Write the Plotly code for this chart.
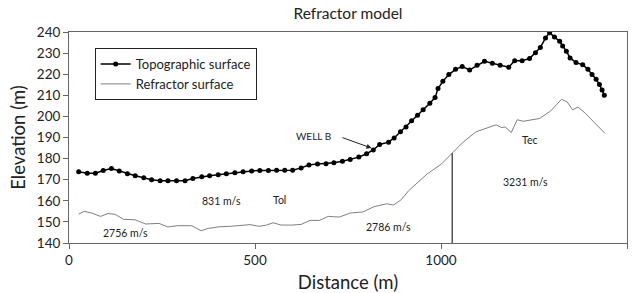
import plotly.graph_objects as go

# Topographic surface (distance m, elevation m)
topo_distance = [26, 49, 71, 92, 114, 135, 157, 178, 201, 222, 245, 266, 289, 312, 333, 357,
                 378, 401, 423, 446, 468, 491, 513, 536, 558, 580, 601, 624, 645, 668, 691,
                 712, 735, 756, 779, 800, 818, 835, 859, 874, 891, 906, 921, 937, 952, 970,
                 984, 992, 1005, 1021, 1039, 1057, 1077, 1097, 1117, 1138, 1159, 1182, 1198,
                 1218, 1238, 1254, 1267, 1281, 1292, 1305, 1319, 1327, 1337, 1347, 1363, 1381,
                 1395, 1406, 1417, 1426, 1433, 1439]
topo_elevation = [173.8, 173.1, 173.1, 174.4, 175.3, 174.1, 172.8, 171.9, 170.9, 170.0, 169.5,
                  169.5, 169.5, 169.5, 170.6, 171.4, 171.9, 172.3, 172.8, 173.3, 173.8, 174.1,
                  174.4, 174.4, 174.5, 174.5, 174.5, 175.6, 177.0, 177.5, 177.6, 178.0, 178.7,
                  179.6, 180.7, 182.3, 184.1, 186.7, 187.8, 189.8, 192.7, 195.0, 197.9, 200.6,
                  203.1, 206.2, 208.9, 213.2, 216.6, 219.8, 222.3, 223.6, 222.0, 224.2, 226.1,
                  225.2, 224.2, 223.3, 226.4, 226.4, 227.4, 230.2, 232.6, 237.2, 239.7, 237.6,
                  235.6, 233.4, 230.9, 227.7, 225.5, 224.5, 222.3, 219.8, 217.6, 215.1, 212.5,
                  210.0]

# Refractor surface
refr_distance = [26, 41, 61, 85, 105, 124, 147, 178, 206, 242, 266, 291, 330, 355, 374, 404,
                 433, 462, 487, 511, 531, 549, 570, 599, 624, 648, 673, 697, 727, 756, 790,
                 820, 854, 872, 893, 913, 937, 962, 1001, 1030, 1060, 1094, 1123, 1148, 1163,
                 1172, 1189, 1205, 1221, 1265, 1295, 1324, 1339, 1354, 1368, 1388, 1412, 1440]
refr_elevation = [153.7, 155.0, 154.2, 152.6, 154.0, 153.6, 151.2, 151.0, 149.0, 149.3, 147.6,
                  148.2, 148.2, 145.8, 146.9, 147.7, 147.9, 148.2, 148.7, 147.9, 148.5, 149.6,
                  148.5, 148.5, 148.8, 150.7, 150.7, 152.6, 152.3, 154.2, 154.7, 157.2, 158.6,
                  158.0, 160.5, 164.8, 168.4, 172.6, 177.4, 182.6, 187.9, 192.7, 194.6, 196.0,
                  194.7, 195.0, 192.4, 198.4, 197.7, 199.0, 202.6, 208.1, 206.9, 203.1, 204.4,
                  201.5, 197.1, 192.1]

# Layer boundary (vertical line)
boundary_distance = 1030
boundary_top = 182.6
axis_bottom = 140

# Labels: (text, distance, elevation)
label_text = ["831 m/s", "Tol", "2756 m/s", "2786 m/s", "3231 m/s", "Tec"]
label_x = [411, 567, 152, 858, 1227, 1239]
label_y = [159.8, 160.6, 144.8, 147.6, 168.9, 188.7]

well_label = "WELL B"
well_label_x, well_label_y = 658, 190.7
well_arrow_tail = (731, 190.2)
well_arrow_head = (813, 185.0)

x_ticks = [0, 500, 1000, 1500]
y_ticks = [140, 150, 160, 170, 180, 190, 200, 210, 220, 230, 240]

FONT = "Lato, 'DejaVu Sans', sans-serif"

fig = go.Figure()
fig.add_trace(go.Scatter(
    x=topo_distance, y=topo_elevation, mode="lines+markers",
    name="Topographic surface",
    line=dict(color="black", width=1.5),
    marker=dict(color="black", size=5, symbol="circle"),
))
fig.add_trace(go.Scatter(
    x=refr_distance, y=refr_elevation, mode="lines",
    name="Refractor surface",
    line=dict(color="#808080", width=1),
))
fig.add_trace(go.Scatter(
    x=[boundary_distance, boundary_distance], y=[axis_bottom, boundary_top],
    mode="lines", line=dict(color="black", width=1), showlegend=False, hoverinfo="skip",
))

for t, x, y in zip(label_text, label_x, label_y):
    fig.add_annotation(x=x, y=y, text=t, showarrow=False,
                       font=dict(family=FONT, size=10.5, color="#222"))

fig.add_annotation(x=well_label_x, y=well_label_y, text=well_label, showarrow=False,
                   font=dict(family=FONT, size=10, color="#222"))
fig.add_annotation(x=well_arrow_head[0], y=well_arrow_head[1],
                   ax=well_arrow_tail[0], ay=well_arrow_tail[1],
                   axref="x", ayref="y", xref="x", yref="y", text="",
                   showarrow=True, arrowhead=2, arrowsize=1, arrowwidth=1, arrowcolor="#222")

fig.update_layout(
    width=638, height=293,
    margin=dict(l=69, r=11, t=32, b=50, autoexpand=False),
    paper_bgcolor="white", plot_bgcolor="white",
    font=dict(family=FONT, color="#222"),
    title=dict(text="Refractor model", x=0.5, xref="paper", y=0.952, yref="container",
               xanchor="center", yanchor="middle", font=dict(size=15.5, color="#222")),
    showlegend=True,
    legend=dict(x=0.046, y=0.924, xanchor="left", yanchor="top",
                bordercolor="#222", borderwidth=1, bgcolor="white",
                font=dict(size=13, color="#222"), tracegroupgap=0,
                itemwidth=30, entrywidth=185),
    xaxis=dict(range=[0, 1500], tickvals=x_ticks, ticks="outside", ticklen=5,
               tickcolor="#666", linecolor="#666", linewidth=1, mirror=True,
               showgrid=False, zeroline=False, tickfont=dict(size=13.5), automargin=False,
               title=dict(text="Distance (m)", font=dict(size=18.5), standoff=9)),
    yaxis=dict(range=[140, 240], tickvals=y_ticks, ticks="outside", ticklen=5,
               tickcolor="#666", linecolor="#666", linewidth=1, mirror=True,
               showgrid=False, zeroline=False, tickfont=dict(size=13.5), automargin=False,
               title=dict(text="Elevation (m)", font=dict(size=18.5), standoff=6)),
)

fig.write_html("out.html", config={"displayModeBar": False},
               post_script="document.body.style.margin='0';document.body.style.overflow='hidden';")
